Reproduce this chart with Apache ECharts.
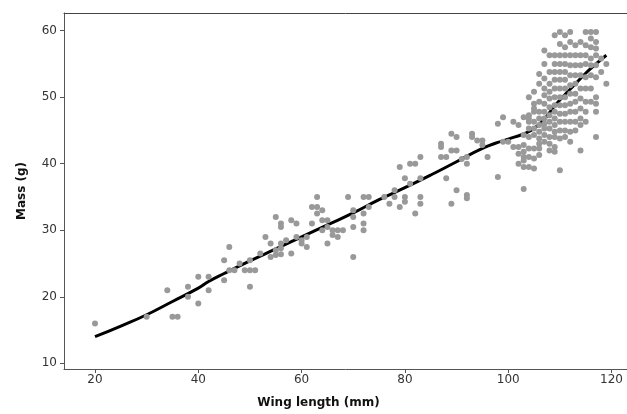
<!DOCTYPE html>
<html>
<head>
<meta charset="utf-8">
<script src="https://cdn.jsdelivr.net/npm/echarts@6/dist/echarts.min.js"></script>
<style>
html,body{margin:0;padding:0;background:#fff;overflow:hidden;}
#chart{width:627px;height:414px;}
</style>
</head>
<body>
<div id="chart"></div>
<script>
const xTicks = [20, 40, 60, 80, 100, 120];
const yTicks = [10, 20, 30, 40, 50, 60];

const wingLength = [
  20, 30, 34, 35, 36, 38, 38, 40, 40, 42, 42, 45, 45, 46, 46, 47, 48, 49, 50, 51,
  50, 50, 52, 53, 54, 54, 55, 56, 56, 56, 56, 56, 55, 55, 57, 58, 58, 59, 59, 60,
  60, 61, 61, 62, 63, 63, 63, 62, 64, 64, 65, 64, 65, 65, 66, 67, 66, 67, 68, 69,
  70, 70, 70, 70, 72, 73, 72, 72, 72, 73, 76, 77, 78, 78, 79, 79, 80, 80, 80, 81,
  82, 81, 82, 83, 83, 83, 83, 87, 87, 87, 88, 88, 89, 89, 90, 90, 89, 90, 91, 92,
  92, 92, 92, 93, 93, 94, 95, 95, 96, 98, 98, 99, 99, 100, 101, 102, 101, 102, 102, 102,
  103, 103, 103, 103, 103, 103, 103, 103,
  104, 104, 104, 104, 104, 104, 104, 104, 104,
  105, 105, 105, 105, 105, 105, 105, 105, 105, 105,
  106, 106, 106, 106, 106, 106, 106, 106, 106, 106, 106,
  107, 107, 107, 107, 107, 107, 107, 107, 107, 107, 107, 107,
  108, 108, 108, 108, 108, 108, 108, 108, 108, 108, 108, 108,
  109, 109, 109, 109, 109, 109, 109, 109, 109, 109, 109, 109, 109, 109, 109,
  110, 110, 110, 110, 110, 110, 110, 110, 110, 110, 110, 110, 110, 110,
  111, 111, 111, 111, 111, 111, 111, 111, 111, 111, 111, 111, 111,
  112, 112, 112, 112, 112, 112, 112, 112, 112, 112, 112, 112,
  113, 113, 113, 113, 113, 113, 113, 113, 113, 113,
  114, 114, 114, 114, 114, 114, 114, 114, 114, 114,
  115, 115, 115, 115, 115, 115, 115, 115, 115,
  116, 116, 116, 116, 116, 116, 116, 116,
  117, 117, 117, 117, 117, 117, 117, 117, 117, 117,
  118, 118,
  119, 119
];

const bodyMass = [
  16, 17, 21, 17, 17, 21.5, 20, 23, 19, 23, 21, 25.5, 22.5, 27.5, 24, 24, 25, 24, 24, 24,
  25.5, 21.5, 26.5, 29, 28, 26, 32, 31, 30.5, 28, 27.3, 26.4, 27, 26.3, 28.5, 31.5, 26.5, 31, 29, 28.5,
  28, 29, 27.5, 33.5, 33.5, 35, 32.5, 31, 33, 31.5, 31.5, 30, 30.5, 28, 30, 30, 29.3, 29, 30, 35,
  33, 32, 30.5, 26, 35, 35, 32.5, 31, 30, 33.5, 35, 34, 36, 35, 33.5, 39.5, 37.8, 35, 34.3, 40,
  40, 37, 32.5, 41, 37.8, 35, 34, 43, 42.5, 41, 41, 37.8, 44.5, 42, 42, 44, 34, 36, 40.7, 41,
  40, 35.3, 34.8, 44.5, 44, 43.5, 43.5, 42.8, 41, 46, 38, 47, 43.3, 43.3, 46.3, 45.8, 42.5, 42.5, 41.5, 40,
  47, 44.3, 42.8, 41.8, 41, 40.5, 39.5, 36.2,
  50, 47.3, 46.8, 46.3, 45.3, 44, 42.3, 41, 39.5,
  50.8, 49, 48.3, 47.8, 46.3, 45.3, 44.3, 42.3, 40.8, 39.3,
  53.5, 52, 49.3, 47.8, 46.8, 45.8, 44.8, 43.8, 43, 42.3, 41.3,
  57, 55, 52.8, 51.3, 50.3, 49, 47.8, 46.8, 46, 45.3, 44.3, 43.3,
  56.3, 53.8, 52, 50.8, 49.8, 48.5, 47.3, 46.3, 45.3, 44, 43, 42,
  59.3, 56.3, 55, 53.8, 52.6, 51.3, 50, 48.8, 47.8, 46.8, 45.8, 44.8, 44, 42.5, 41.8,
  59.8, 58, 56.3, 55, 53.8, 52.6, 51.3, 50, 48.8, 47.5, 46.3, 45, 43.8, 39,
  59.3, 57.5, 56.3, 55, 53.8, 52.6, 51.3, 50, 48.8, 47.5, 46.3, 45, 44,
  59.8, 58.3, 56.3, 54.8, 53.3, 51.8, 50.5, 49, 47.8, 46.3, 44.8, 43.3,
  57.8, 56.3, 54.8, 53.3, 52, 50.5, 49.3, 47.8, 46.3, 45,
  58.3, 56.3, 54.8, 53.3, 51.3, 49.8, 48.3, 46.8, 45.8, 42,
  59.8, 57.8, 56.3, 55, 53, 51.3, 49.3, 47.8, 46.3,
  59.8, 58.8, 57.5, 55.8, 54.8, 53.3, 51.3, 49.3,
  59.8, 58.3, 57.3, 56.3, 54.8, 53, 50, 49, 47.8, 44,
  55.8, 53.8,
  55, 52
];

const fitWing = [20, 25, 30, 35, 40, 42, 45, 50, 55, 60, 65, 70, 75, 80, 85, 90, 95, 98, 100, 103, 105, 107, 109, 111, 113, 115, 117, 119];
const fitMass = [14.0, 15.6, 17.3, 19.3, 21.3, 22.3, 23.5, 25.4, 27.2, 29.0, 30.8, 32.6, 34.6, 36.4, 38.3, 40.3, 42.3, 43.2, 43.7, 44.5, 45.3, 46.7, 48.7, 50.4, 52.0, 53.6, 55.0, 56.3];

const scatterData = wingLength.map((w, i) => [w, bodyMass[i]]);
const fitData = fitWing.map((w, i) => [w, fitMass[i]]);

const chart = echarts.init(document.getElementById('chart'), null, {renderer: 'canvas'});
const font = '"DejaVu Sans", Verdana, sans-serif';
chart.setOption({
  animation: false,
  backgroundColor: '#ffffff',
  grid: {
    left: 64, top: 13, right: 0, height: 356, show: false
  },
  xAxis: [
    {
      type: 'value', min: 14, max: 123,
      name: 'Wing length (mm)', nameLocation: 'middle', nameGap: 28,
      nameTextStyle: {fontFamily: font, fontSize: 12, fontWeight: 'bold', color: '#111', padding: [0, 54, 0, 0]},
      axisLine: {show: true, lineStyle: {color: '#555', width: 1}},
      axisTick: {show: true, length: 4, lineStyle: {color: '#555'}, customValues: xTicks},
      axisLabel: {fontFamily: font, fontSize: 12, color: '#333', margin: 5, customValues: xTicks},
      splitLine: {show: false}
    },
    {
      type: 'value', position: 'top', min: 14, max: 123,
      axisLine: {show: true, onZero: false, lineStyle: {color: '#444', width: 1}},
      axisTick: {show: false}, axisLabel: {show: false}, splitLine: {show: false}
    }
  ],
  yAxis: {
    type: 'value', min: 9.15, max: 62.65,
    name: 'Mass (g)', nameLocation: 'middle', nameGap: 36,
    nameTextStyle: {fontFamily: font, fontSize: 12, fontWeight: 'bold', color: '#111'},
    axisLine: {show: true, lineStyle: {color: '#555', width: 1}},
    axisTick: {show: true, length: 4, lineStyle: {color: '#555'}, customValues: yTicks},
    axisLabel: {fontFamily: font, fontSize: 12, color: '#333', margin: 7, customValues: yTicks},
    splitLine: {show: false}
  },
  series: [
    {
      type: 'line', data: fitData, smooth: true, showSymbol: false, symbol: 'none', xAxisIndex: 0,
      lineStyle: {color: '#000', width: 3}, z: 2, silent: true
    },
    {
      type: 'scatter', data: scatterData, symbol: 'circle', symbolSize: 6, xAxisIndex: 0,
      itemStyle: {color: '#999999', opacity: 1}, z: 3, silent: true
    }
  ]
});
</script>
</body>
</html>
